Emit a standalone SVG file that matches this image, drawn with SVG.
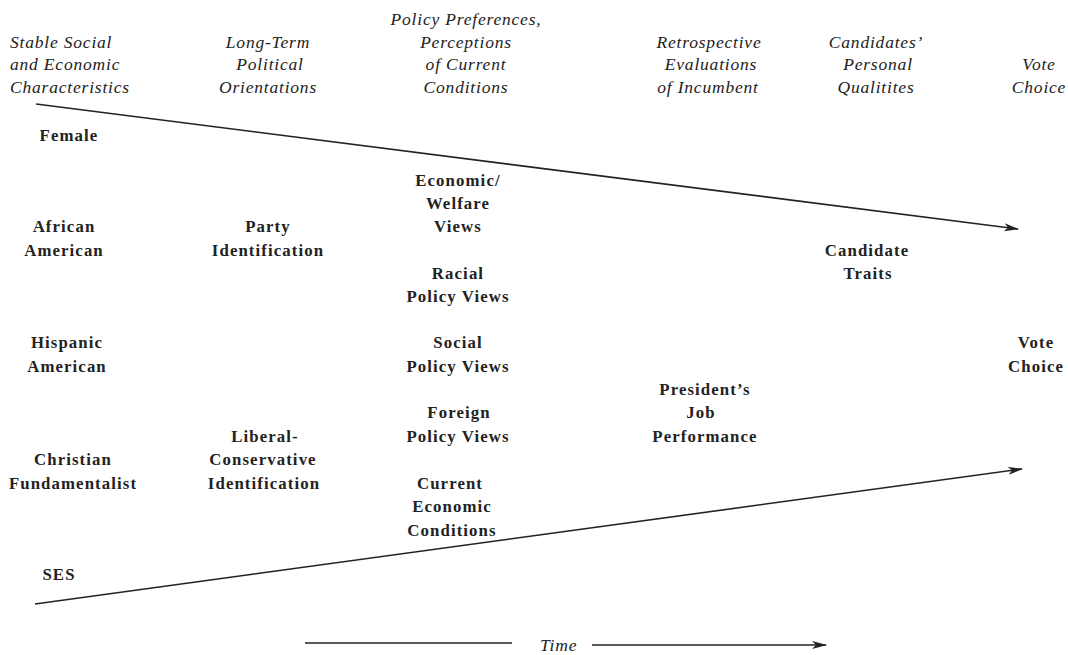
<svg xmlns="http://www.w3.org/2000/svg" width="1068" height="655" viewBox="0 0 1068 655">
<style>
.h{font-family:"Liberation Serif","Times New Roman",serif;font-style:italic;font-size:17.5px;fill:#222;letter-spacing:0.8px}
.b{font-family:"Liberation Serif","Times New Roman",serif;font-weight:bold;font-size:16.8px;fill:#222;letter-spacing:1.1px;text-anchor:middle}
.c{text-anchor:middle}
.ln{stroke:#222;stroke-width:1.6;fill:none}
</style>
<defs>
<marker id="ah" viewBox="0 0 15 9" refX="14" refY="4.5" markerWidth="15" markerHeight="9" markerUnits="userSpaceOnUse" orient="auto"><path d="M0,0.5 L15,4.5 L0,8.5 L4,4.5 Z" fill="#222"/></marker>
</defs>
<rect width="1068" height="655" fill="#fff"/>
<g id="headers">
<text class="h" x="10" y="48">Stable Social</text>
<text class="h" x="10" y="70">and Economic</text>
<text class="h" x="10" y="93">Characteristics</text>
<text class="h c" x="268" y="48">Long-Term</text>
<text class="h c" x="270" y="70">Political</text>
<text class="h c" x="268" y="93">Orientations</text>
<text class="h c" x="466" y="25">Policy Preferences,</text>
<text class="h c" x="466" y="48">Perceptions</text>
<text class="h c" x="466" y="70">of Current</text>
<text class="h c" x="466" y="93">Conditions</text>
<text class="h c" x="709" y="48">Retrospective</text>
<text class="h c" x="711" y="70">Evaluations</text>
<text class="h c" x="708" y="93">of Incumbent</text>
<text class="h c" x="876" y="48">Candidates’</text>
<text class="h c" x="878" y="70">Personal</text>
<text class="h c" x="876" y="93">Qualitites</text>
<text class="h c" x="1039" y="70">Vote</text>
<text class="h c" x="1039" y="93">Choice</text>
</g>
<g id="female"><text class="b" x="69" y="141">Female</text></g>
<g id="african"><text class="b" x="64" y="232">African</text><text class="b" x="64" y="256">American</text></g>
<g id="hispanic"><text class="b" x="67" y="348">Hispanic</text><text class="b" x="67" y="372">American</text></g>
<g id="christian"><text class="b" x="73" y="465">Christian</text><text class="b" x="73" y="489">Fundamentalist</text></g>
<g id="ses"><text class="b" x="59" y="580">SES</text></g>
<g id="party"><text class="b" x="268" y="232">Party</text><text class="b" x="268" y="256">Identification</text></g>
<g id="libcon"><text class="b" x="265" y="442">Liberal-</text><text class="b" x="263" y="465">Conservative</text><text class="b" x="264" y="489">Identification</text></g>
<g id="econ"><text class="b" x="458" y="186">Economic/</text><text class="b" x="458" y="209">Welfare</text><text class="b" x="458" y="232">Views</text></g>
<g id="racial"><text class="b" x="458" y="279">Racial</text><text class="b" x="458" y="302">Policy Views</text></g>
<g id="social"><text class="b" x="458" y="348">Social</text><text class="b" x="458" y="372">Policy Views</text></g>
<g id="foreign"><text class="b" x="459" y="418">Foreign</text><text class="b" x="458" y="442">Policy Views</text></g>
<g id="current"><text class="b" x="450" y="489">Current</text><text class="b" x="452" y="512">Economic</text><text class="b" x="452" y="536">Conditions</text></g>
<g id="president"><text class="b" x="705" y="395">President’s</text><text class="b" x="701" y="418">Job</text><text class="b" x="705" y="442">Performance</text></g>
<g id="traits"><text class="b" x="867" y="256">Candidate</text><text class="b" x="868" y="279">Traits</text></g>
<g id="vote"><text class="b" x="1036" y="348">Vote</text><text class="b" x="1036" y="372">Choice</text></g>
<g id="connectors">
<line class="ln" x1="36" y1="104" x2="1018" y2="229" marker-end="url(#ah)"/>
<line class="ln" x1="35" y1="604" x2="1022" y2="469" marker-end="url(#ah)"/>
<line class="ln" x1="305" y1="643" x2="512" y2="643"/>
<line class="ln" x1="592" y1="645" x2="826" y2="645" marker-end="url(#ah)"/>
</g>
<g id="time"><text class="h" x="540" y="651">Time</text></g>
</svg>
